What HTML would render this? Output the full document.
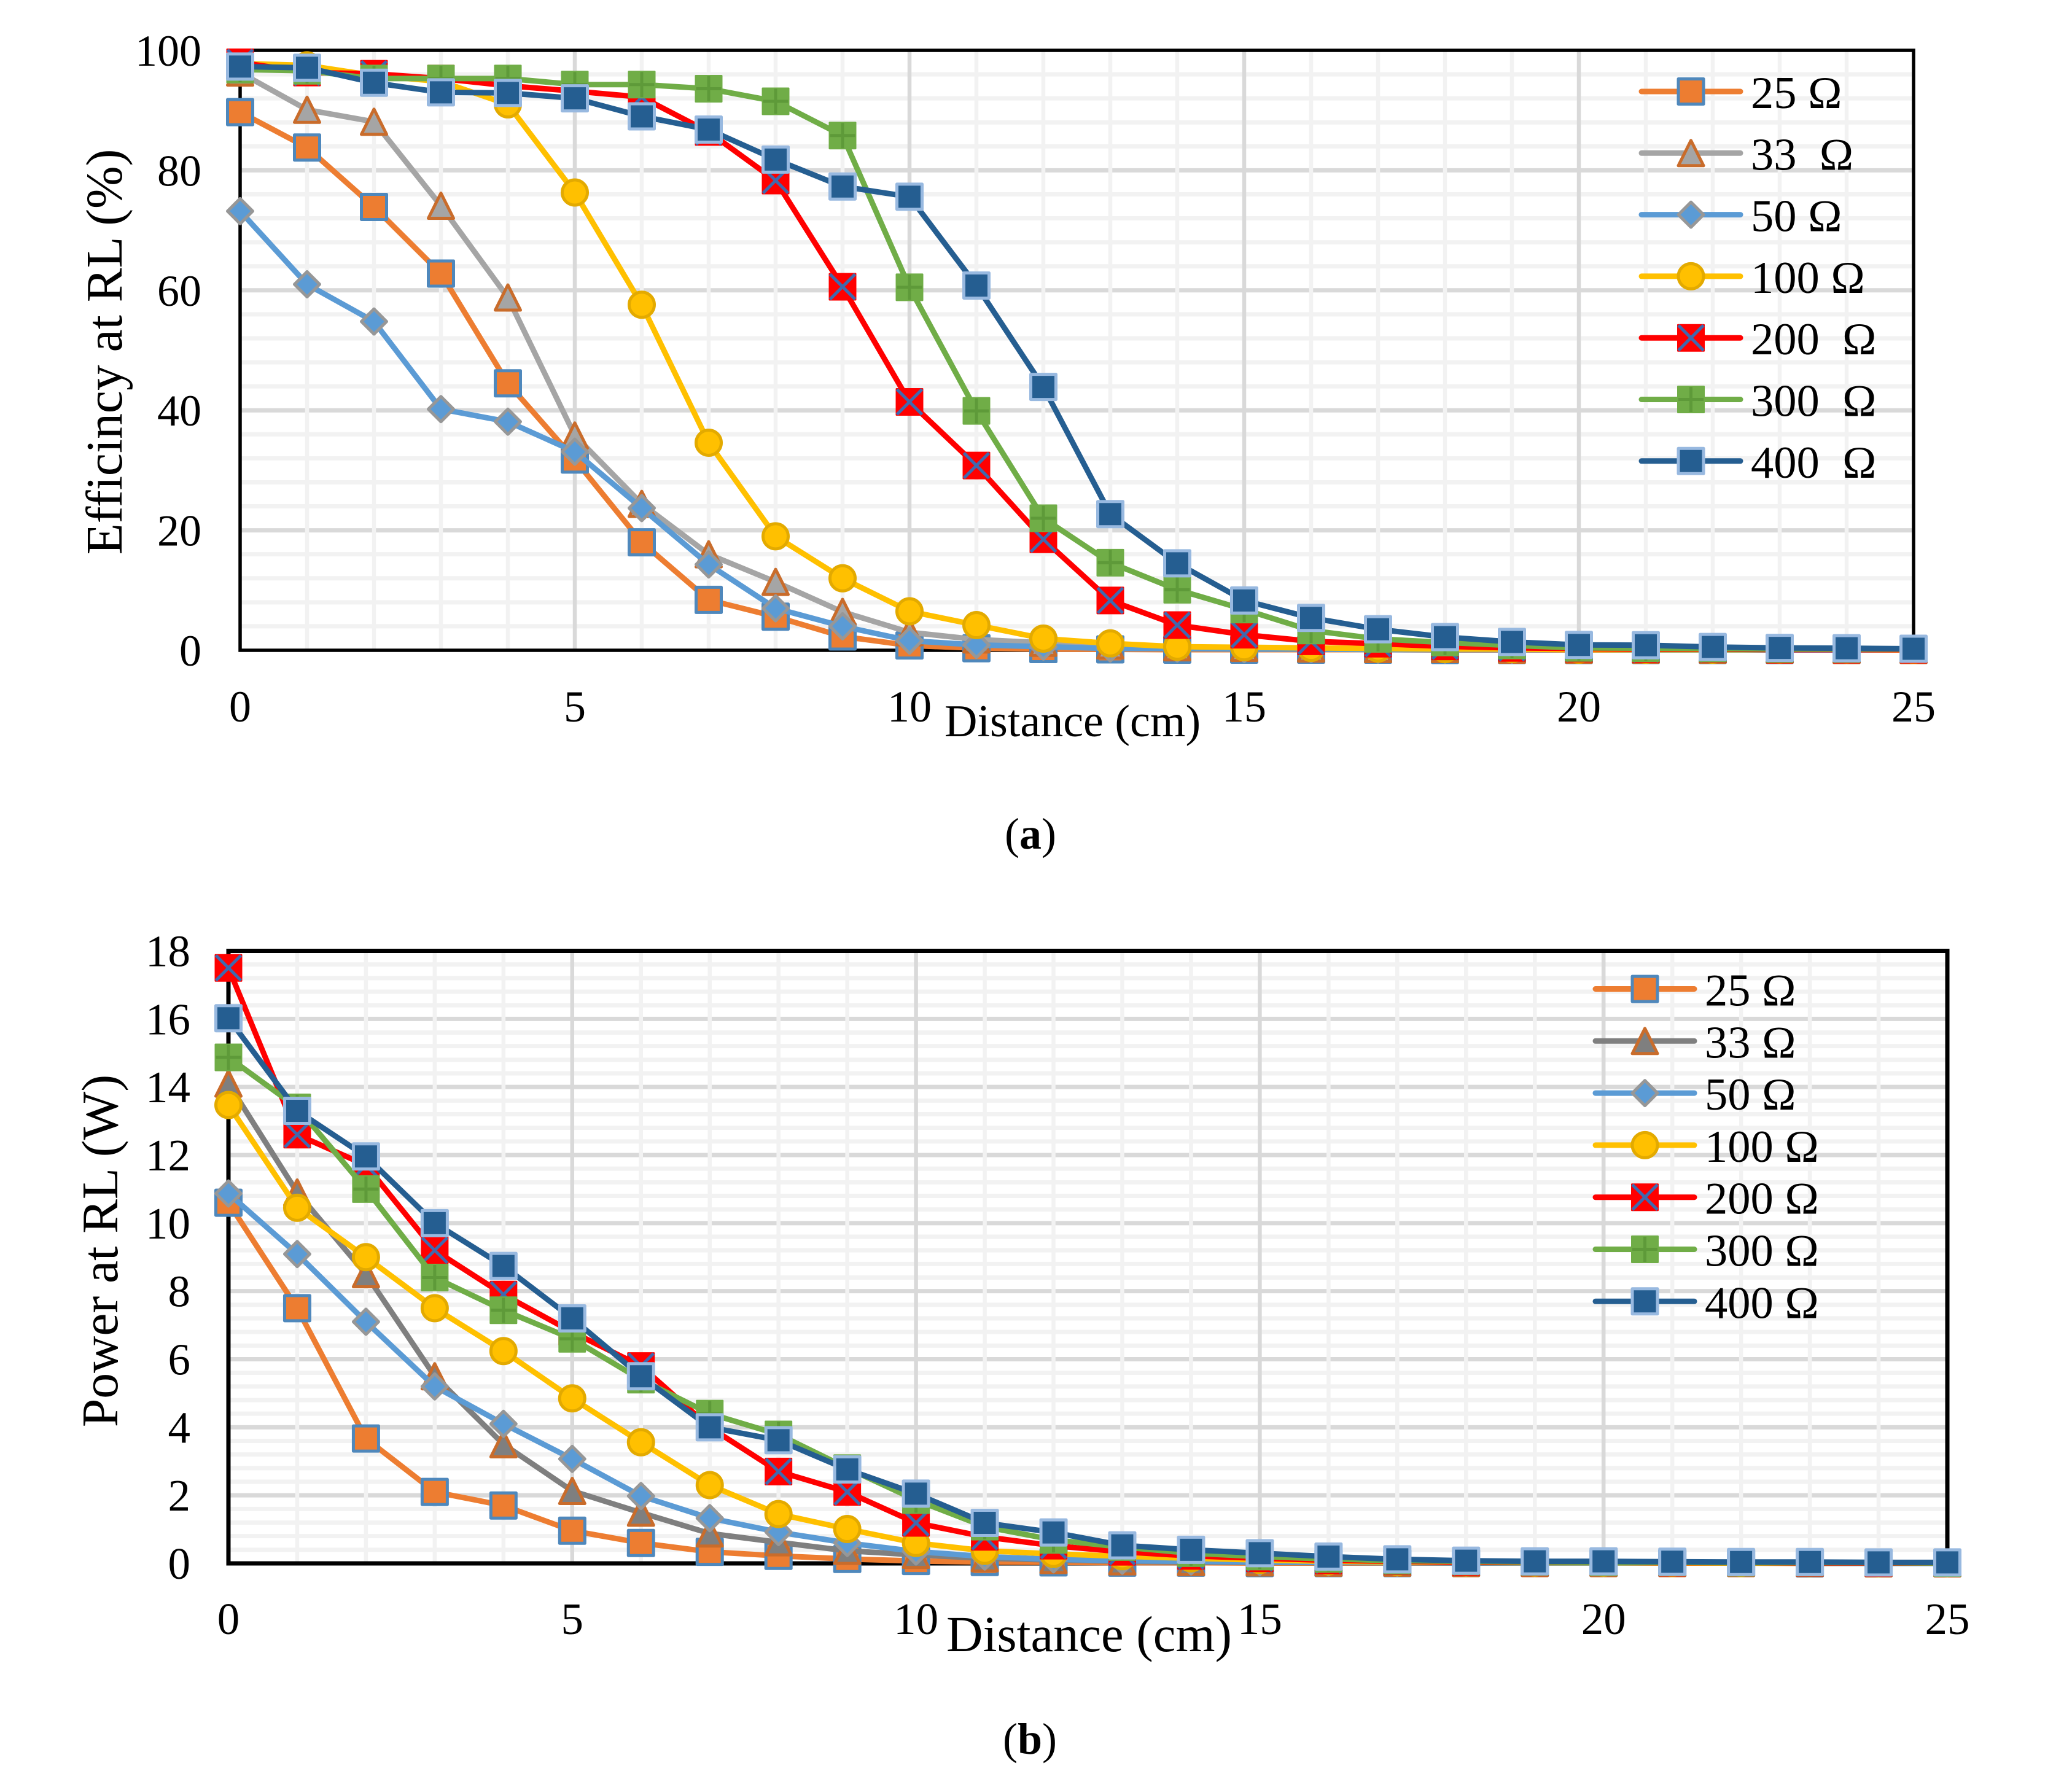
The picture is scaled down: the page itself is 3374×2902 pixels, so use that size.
<!DOCTYPE html>
<html lang="en">
<head>
<meta charset="utf-8">
<title>Efficiency and power versus distance</title>
<style>
html,body{margin:0;padding:0;background:#fff;}
svg{display:block;}
text{font-family:"Liberation Serif",serif;fill:#000;white-space:pre;}
</style>
</head>
<body>
<svg id="fig" xmlns="http://www.w3.org/2000/svg" width="3374" height="2902" viewBox="0 0 3374 2902"></svg>
<script>
const distanceCm = [0,1,2,3,4,5,6,7,8,9,10,11,12,13,14,15,16,17,18,19,20,21,22,23,24,25];
const xTickLabels = [0,5,10,15,20,25];
const effTickLabels = [0,20,40,60,80,100];
const powTickLabels = [0,2,4,6,8,10,12,14,16,18];
const legendLabelsA = ["25 \u03A9","33  \u03A9","50 \u03A9","100 \u03A9","200  \u03A9","300  \u03A9","400  \u03A9"];
const legendLabelsB = ["25 \u03A9","33 \u03A9","50 \u03A9","100 \u03A9","200 \u03A9","300 \u03A9","400 \u03A9"];

const eff25  = [89.7,83.8,73.9,62.8,44.5,31.8,18,8.4,5.6,2.3,0.8,0.35,0.2,0.15,0.1,0.1,0.1,0.1,0.05,0.05,0.05,0.05,0.05,0.05,0.05,0.05];
const eff33  = [96.3,90.1,88.1,74.1,58.8,35.8,24.4,16,11.4,6.4,3,1.8,1.25,0.8,0.5,0.4,0.3,0.2,0.2,0.1,0.1,0.1,0.1,0.1,0.05,0.05];
const eff50  = [73.2,61,54.8,40.2,38.1,33.1,23.7,14.3,7,4,1.6,0.9,0.6,0.3,0.3,0.2,0.2,0.1,0.1,0.1,0.1,0.05,0.05,0.05,0.05,0.05];
const eff100 = [97.8,97.5,95.8,94.8,91,76.3,57.6,34.6,19,12,6.5,4.2,1.95,1.15,0.6,0.5,0.4,0.3,0.2,0.2,0.1,0.1,0.1,0.1,0.1,0.05];
const eff200 = [98,96.3,96.1,95.3,94.1,93.2,92.2,86.4,78.3,60.6,41.4,30.8,18.5,8.3,4.2,2.6,1.5,1.1,0.65,0.4,0.3,0.2,0.2,0.1,0.1,0.1];
const eff300 = [96.8,96.6,95.3,95.3,95.3,94.3,94.3,93.6,91.5,85.8,60.5,39.9,22,14.6,10.1,6.8,3.3,1.9,1.3,0.8,0.4,0.35,0.3,0.2,0.2,0.2];
const eff400 = [97.3,97.1,94.6,93,92.9,92,89,86.8,81.8,77.3,75.6,60.8,43.9,22.7,14.5,8.3,5.4,3.5,2.2,1.4,0.9,0.85,0.55,0.4,0.35,0.25];

const pow25  = [10.6,7.5,3.67,2.1,1.7,0.96,0.6,0.34,0.22,0.13,0.07,0.04,0.03,0.02,0.02,0.01,0.01,0.01,0.01,0.01,0.01,0.01,0.01,0,0,0];
const pow33  = [14.1,10.9,8.5,5.5,3.5,2.13,1.49,0.88,0.62,0.37,0.25,0.15,0.1,0.06,0.04,0.03,0.02,0.02,0.01,0.01,0.01,0.01,0.01,0.01,0,0];
const pow50  = [10.87,9.09,7.1,5.2,4.1,3.07,1.98,1.33,0.92,0.6,0.35,0.2,0.12,0.08,0.06,0.04,0.03,0.02,0.02,0.01,0.01,0.01,0.01,0.01,0,0];
const pow100 = [13.47,10.45,9,7.5,6.24,4.85,3.56,2.3,1.45,1.01,0.6,0.37,0.28,0.21,0.15,0.1,0.06,0.04,0.03,0.02,0.02,0.01,0.01,0.01,0.01,0.01];
const pow200 = [17.5,12.6,11.7,9.2,7.9,6.8,5.8,4,2.7,2.1,1.19,0.78,0.52,0.34,0.22,0.15,0.09,0.06,0.04,0.03,0.03,0.02,0.02,0.01,0.01,0.01];
const pow300 = [14.87,13.4,11,8.4,7.44,6.6,5.4,4.4,3.79,2.8,1.86,1.08,0.69,0.48,0.3,0.2,0.13,0.08,0.06,0.04,0.03,0.03,0.02,0.02,0.02,0.01];
const pow400 = [16.02,13.3,11.96,10,8.74,7.2,5.5,4,3.62,2.76,2.05,1.19,0.91,0.53,0.4,0.3,0.2,0.12,0.08,0.06,0.06,0.05,0.04,0.04,0.03,0.03];

const NS = 'http://www.w3.org/2000/svg';
const fig = document.getElementById('fig');
const BORDER = {blue:'#4F88BC',tri:'#C96C2B',dia:'#979797',gold:'#E3AA00',x:'#4069AE',plus:'#5E9A39',lblue:'#98B9E0'};

function make(parent, tag, attrs) {
  const el = document.createElementNS(NS, tag);
  for (const k in attrs) el.setAttribute(k, attrs[k]);
  parent.appendChild(el);
  return el;
}

function drawMarker(parent, kind, cx, cy, c33) {
  const g = make(parent, 'g', {});
  
  
  const h = 20.5, sw = 5;
  if (kind === 's25') {
    make(g, 'rect', {x:cx-h,y:cy-h,width:2*h,height:2*h,fill:'#ED7D31',stroke:BORDER.blue,'stroke-width':sw,'stroke-linejoin':'round'});
  } else if (kind === 't33') {
    make(g, 'polygon', {points:(cx)+','+(cy-h)+' '+(cx+h)+','+(cy+h)+' '+(cx-h)+','+(cy+h),fill:c33,stroke:BORDER.tri,'stroke-width':sw,'stroke-linejoin':'round'});
  } else if (kind === 'd50') {
    make(g, 'polygon', {points:(cx)+','+(cy-h)+' '+(cx+h)+','+(cy)+' '+(cx)+','+(cy+h)+' '+(cx-h)+','+(cy),fill:'#5B9BD5',stroke:BORDER.dia,'stroke-width':sw,'stroke-linejoin':'round'});
  } else if (kind === 'c100') {
    make(g, 'circle', {cx:cx,cy:cy,r:h,fill:'#FFC000',stroke:BORDER.gold,'stroke-width':sw});
  } else if (kind === 'x200') {
    make(g, 'rect', {x:cx-h-2,y:cy-h-2,width:2*h+4,height:2*h+4,rx:1.5,fill:'#FF0000'});
    make(g, 'path', {d:'M'+(cx-h)+' '+(cy-h)+'L'+(cx+h)+' '+(cy+h)+'M'+(cx+h)+' '+(cy-h)+'L'+(cx-h)+' '+(cy+h),fill:'none',stroke:BORDER.x,'stroke-width':sw});
  } else if (kind === 'p300') {
    make(g, 'rect', {x:cx-h-2,y:cy-h-2,width:2*h+4,height:2*h+4,rx:1.5,fill:'#70AD47'});
    make(g, 'path', {d:'M'+cx+' '+(cy-h)+'V'+(cy+h)+'M'+(cx-h)+' '+cy+'H'+(cx+h),fill:'none',stroke:BORDER.plus,'stroke-width':sw});
  } else {
    make(g, 'rect', {x:cx-h,y:cy-h,width:2*h,height:2*h,fill:'#255E91',stroke:BORDER.lblue,'stroke-width':sw,'stroke-linejoin':'round'});
  }
}

function drawChart(cfg) {
  const xScale = v => cfg.left + (v - 0) / 25 * (cfg.right - cfg.left);
  const yScale = v => cfg.bottom - v / cfg.yMax * (cfg.bottom - cfg.top);
  const chart = make(fig, 'g', {});
  
  

  const grid = make(chart, 'g', {});
  
  
  const minorY = cfg.yMax / (cfg.yTicks.length - 1) / 5;
  for (let i = 1; i * minorY < cfg.yMax - 1e-6; i++) {
    if (i % 5 === 0) continue;
    const y = yScale(i * minorY);
    const ln = make(grid, 'line', {x1:cfg.left,x2:cfg.right,y1:y,y2:y,stroke:'#F2F2F2','stroke-width':7});
    
    
  }
  cfg.yTicks.forEach(t => {
    if (t === 0 || t === cfg.yMax) return;
    const y = yScale(t);
    const ln = make(grid, 'line', {x1:cfg.left,x2:cfg.right,y1:y,y2:y,stroke:'#D9D9D9','stroke-width':7});
    
    
  });
  distanceCm.forEach(d => {
    if (d === 0 || d === 25) return;
    const x = xScale(d), major = d % 5 === 0;
    const ln = make(grid, 'line', {x1:x,x2:x,y1:cfg.top,y2:cfg.bottom,stroke:major?'#D9D9D9':'#F2F2F2','stroke-width':6.5});
    
    
  });

  const frame = make(chart, 'rect', {x:cfg.left,y:cfg.top,width:cfg.right-cfg.left,height:cfg.bottom-cfg.top,fill:'none',stroke:'#000','stroke-width':cfg.frameW});
  
  

  cfg.yTicks.forEach(t => {
    const tx = make(chart, 'text', {x:cfg.yLabelX,y:yScale(t)+cfg.yLabelDy,'text-anchor':'end','font-size':cfg.tickSize});
    
    
    tx.textContent = t;
  });
  xTickLabels.forEach(t => {
    const tx = make(chart, 'text', {x:xScale(t),y:cfg.xLabelY,'text-anchor':'middle','font-size':cfg.tickSize});
    
    
    tx.textContent = t;
  });

  const yTitle = make(chart, 'text', {transform:'translate('+cfg.yTitleX+' '+cfg.yTitleCy+') rotate(-90)','text-anchor':'middle','font-size':cfg.yTitleSize});
  
  
  yTitle.textContent = cfg.yTitle;

  const xTitle = make(chart, 'text', {x:cfg.xTitleX,y:cfg.xTitleY,'font-size':cfg.xTitleSize});
  
  
  xTitle.textContent = 'Distance (cm)';

  const caption = make(chart, 'text', {x:cfg.capX,y:cfg.capY,'text-anchor':'middle','font-size':72});
  
  
  caption.appendChild(document.createTextNode('('));
  const bold = make(caption, 'tspan', {'font-weight':'bold'});
  bold.textContent = cfg.capLetter;
  caption.appendChild(document.createTextNode(')'));

  const colors = ['#ED7D31', cfg.c33, '#5B9BD5', '#FFC000', '#FF0000', '#70AD47', '#255E91'];
  const kinds = ['s25','t33','d50','c100','x200','p300','s400'];
  cfg.series.forEach((vals, i) => {
    const g = make(chart, 'g', {});
    
    
    const pts = vals.map((v, j) => xScale(distanceCm[j]) + ',' + yScale(v)).join(' ');
    const pl = make(g, 'polyline', {points:pts,fill:'none',stroke:colors[i],'stroke-width':9,'stroke-linejoin':'round','stroke-linecap':'round'});
    
    
    vals.forEach((v, j) => drawMarker(g, kinds[i], xScale(distanceCm[j]), yScale(v), cfg.c33));
  });

  const legend = make(chart, 'g', {});
  
  
  cfg.legendLabels.forEach((lab, i) => {
    const y = cfg.legendTop + i * cfg.legendStep;
    const entry = make(legend, 'g', {});
    
    
    make(entry, 'line', {x1:cfg.legendX1+4,x2:cfg.legendX2-4,y1:y,y2:y,stroke:colors[i],'stroke-width':9,'stroke-linecap':'round'});
    drawMarker(entry, kinds[i], (cfg.legendX1+cfg.legendX2)/2, y, cfg.c33);
    const t = make(entry, 'text', {x:cfg.legendTextX,y:y+cfg.legendDy,'font-size':74.5});
    
    
    t.textContent = lab;
  });
}

drawChart({
  name:'efficiency-chart', left:391, right:3116, top:82, bottom:1059, yMax:100, yTicks:effTickLabels,
  frameW:5.5, tickSize:72, yLabelX:328, yLabelDy:25, xLabelY:1175,
  yTitle:'Efficincy at RL (%)', yTitleX:198, yTitleCy:573, yTitleSize:83.5,
  xTitleX:1538, xTitleY:1199, xTitleSize:74,
  capX:1678, capY:1382, capLetter:'a', c33:'#A5A5A5',
  series:[eff25,eff33,eff50,eff100,eff200,eff300,eff400],
  legendLabels:legendLabelsA, legendTop:149, legendStep:100.3, legendX1:2669, legendX2:2838, legendTextX:2851, legendDy:27
});
drawChart({
  name:'power-chart', left:372, right:3171, top:1548.5, bottom:2546, yMax:18, yTicks:powTickLabels,
  frameW:7, tickSize:73, yLabelX:310, yLabelDy:25, xLabelY:2661,
  yTitle:'Power at RL (W)', yTitleX:191, yTitleCy:2037, yTitleSize:83.5,
  xTitleX:1541, xTitleY:2689, xTitleSize:82.5,
  capX:1677, capY:2856, capLetter:'b', c33:'#7F7F7F',
  series:[pow25,pow33,pow50,pow100,pow200,pow300,pow400],
  legendLabels:legendLabelsB, legendTop:1610.5, legendStep:84.8, legendX1:2594, legendX2:2763, legendTextX:2776, legendDy:27
});
</script>
</body>
</html>
